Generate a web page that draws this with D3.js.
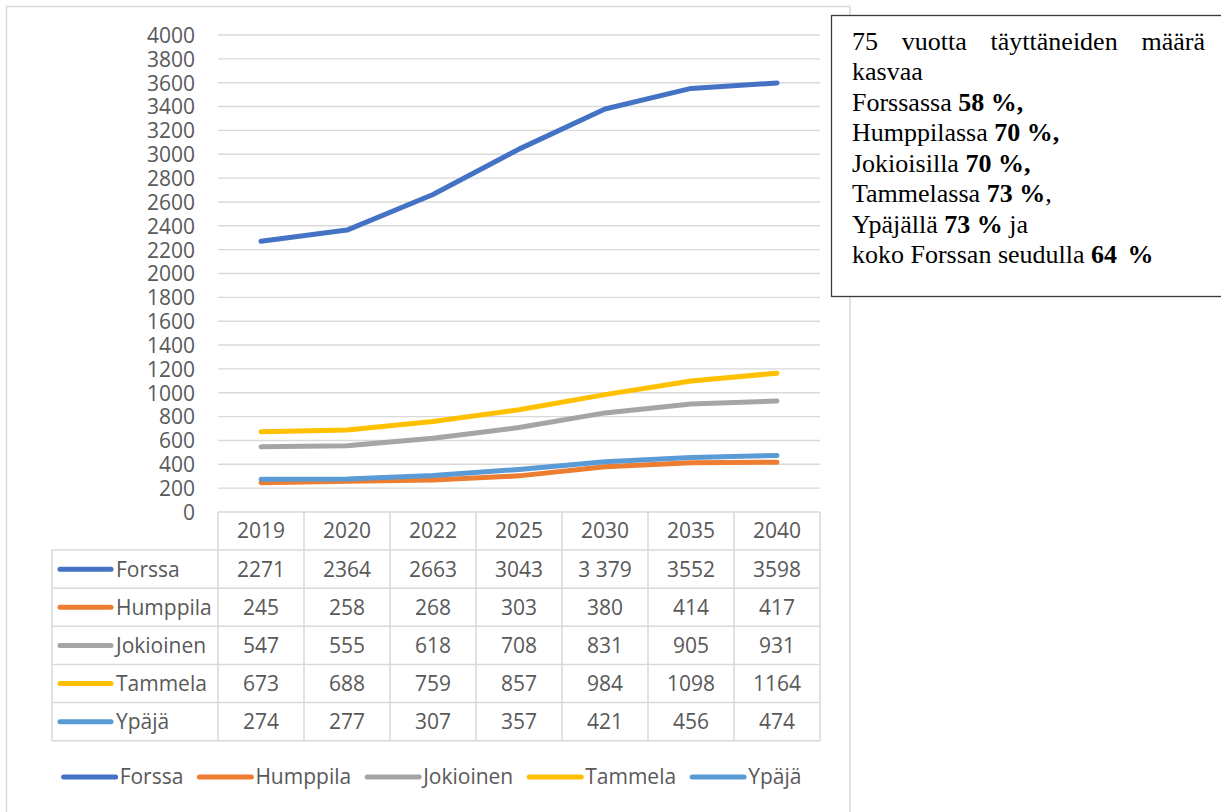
<!DOCTYPE html>
<html>
<head>
<meta charset="utf-8">
<script src="https://cdn.jsdelivr.net/npm/d3@7"></script>
<style>
  html, body { margin: 0; padding: 0; background: #fff; }
  svg { display: block; }
</style>
</head>
<body>
<svg id="chart" width="1221" height="812"></svg>
<script>
// ---------- data ----------
const years = ["2019", "2020", "2022", "2025", "2030", "2035", "2040"];
const seriesNames = ["Forssa", "Humppila", "Jokioinen", "Tammela", "Ypäjä"];
const forssa    = [2271, 2364, 2663, 3043, 3379, 3552, 3598];
const humppila  = [245, 258, 268, 303, 380, 414, 417];
const jokioinen = [547, 555, 618, 708, 831, 905, 931];
const tammela   = [673, 688, 759, 857, 984, 1098, 1164];
const ypaja     = [274, 277, 307, 357, 421, 456, 474];
const seriesColors = ["#4472C4", "#ED7D31", "#A5A5A5", "#FFC000", "#5B9BD5"];
const yTicks = [0, 200, 400, 600, 800, 1000, 1200, 1400, 1600, 1800, 2000, 2200, 2400, 2600, 2800, 3000, 3200, 3400, 3600, 3800, 4000];
const displayOverrides = { "Forssa|2030": "3 379" };

const noteLines = [
  [{ t: "75 vuotta täyttäneiden määrä", justify: true }],
  [{ t: "kasvaa" }],
  [{ t: "Forssassa " }, { t: "58 %,", b: true }],
  [{ t: "Humppilassa " }, { t: "70 %,", b: true }],
  [{ t: "Jokioisilla " }, { t: "70 %,", b: true }],
  [{ t: "Tammelassa " }, { t: "73 %", b: true }, { t: "," }],
  [{ t: "Ypäjällä " }, { t: "73 %", b: true }, { t: " ja" }],
  [{ t: "koko Forssan seudulla " }, { t: "64", b: true }, { t: " %", b: true, dx: 4 }]
];

const seriesValues = [forssa, humppila, jokioinen, tammela, ypaja];
const series = seriesNames.map((n, i) => ({ name: n, color: seriesColors[i], values: seriesValues[i] }));

// ---------- layout ----------
const svg = d3.select("#chart");
const FONT = "'Open Sans', 'Noto Sans', sans-serif";
const FS = 21;
const TXT = "#595959";
const GRID = "#D9D9D9";

const plotLeft = 218, plotRight = 820, plotTop = 35, plotBottom = 512;
const tableLeft = 52, tableBottom = 740.7;

// chart outer border
svg.append("rect")
  .attr("x", 6.5).attr("y", 6.5)
  .attr("width", 843.5).attr("height", 820)
  .attr("fill", "#fff").attr("stroke", GRID).attr("stroke-width", 1.5);

const x = d3.scaleBand().domain(years).range([plotLeft, plotRight]);
const y = d3.scaleLinear().domain([0, 4000]).range([plotBottom, plotTop]);

// gridlines
svg.append("g").selectAll("line").data(yTicks.filter(d => d > 0)).join("line")
  .attr("x1", plotLeft).attr("x2", plotRight)
  .attr("y1", d => y(d)).attr("y2", d => y(d))
  .attr("stroke", GRID).attr("stroke-width", 1.4);

// y axis labels
const yAxis = d3.axisLeft(y).tickValues(yTicks).tickFormat(d3.format("d")).tickSize(0).tickPadding(0);
const yg = svg.append("g").attr("transform", "translate(195,0)").call(yAxis);
yg.select(".domain").remove();
yg.selectAll("text")
  .attr("font-family", FONT).attr("font-size", FS).attr("fill", TXT)
  .attr("dy", "0.35em");

// ---------- data table ----------
const rows = ["__header"].concat(seriesNames);
const r = d3.scaleBand().domain(rows).range([plotBottom, tableBottom]);
const tg = svg.append("g");

const hLines = [{ y: plotBottom, x1: plotLeft }];
rows.forEach(d => hLines.push({ y: r(d) + r.bandwidth(), x1: tableLeft }));
tg.selectAll("line.h").data(hLines).join("line")
  .attr("class", "h")
  .attr("x1", d => d.x1).attr("x2", plotRight)
  .attr("y1", d => d.y).attr("y2", d => d.y)
  .attr("stroke", GRID).attr("stroke-width", 1.5);

const vXs = years.map(yy => x(yy)).concat([plotRight]);
tg.selectAll("line.v").data(vXs).join("line")
  .attr("class", "v")
  .attr("x1", d => d).attr("x2", d => d)
  .attr("y1", plotBottom).attr("y2", tableBottom)
  .attr("stroke", GRID).attr("stroke-width", 1.5);
tg.append("line")
  .attr("x1", tableLeft).attr("x2", tableLeft)
  .attr("y1", r(seriesNames[0])).attr("y2", tableBottom)
  .attr("stroke", GRID).attr("stroke-width", 1.5);

tg.selectAll("text.hdr").data(years).join("text")
  .attr("class", "hdr")
  .attr("x", d => x(d) + x.bandwidth() / 2)
  .attr("y", r("__header") + r.bandwidth() / 2)
  .attr("dy", "0.35em")
  .attr("text-anchor", "middle")
  .attr("font-family", FONT).attr("font-size", FS).attr("fill", TXT)
  .text(d => d);

series.forEach(s => {
  const cy = r(s.name) + r.bandwidth() / 2;
  tg.append("line")
    .attr("x1", 60).attr("x2", 111)
    .attr("y1", cy).attr("y2", cy)
    .attr("stroke", s.color).attr("stroke-width", 5).attr("stroke-linecap", "round");
  tg.append("text")
    .attr("x", 116).attr("y", cy).attr("dy", "0.35em")
    .attr("font-family", FONT).attr("font-size", FS).attr("fill", TXT)
    .text(s.name);
  tg.selectAll(null).data(s.values.map((v, i) => ({ v, yr: years[i] }))).join("text")
    .attr("x", d => x(d.yr) + x.bandwidth() / 2)
    .attr("y", cy).attr("dy", "0.35em")
    .attr("text-anchor", "middle")
    .attr("font-family", FONT).attr("font-size", FS).attr("fill", TXT)
    .text(d => displayOverrides[s.name + "|" + d.yr] || String(d.v));
});

// ---------- lines ----------
const line = d3.line()
  .x((d, i) => x(years[i]) + x.bandwidth() / 2)
  .y(d => y(d));
svg.append("g").selectAll("path").data(series).join("path")
  .attr("d", s => line(s.values))
  .attr("fill", "none")
  .attr("stroke", s => s.color)
  .attr("stroke-width", 5)
  .attr("stroke-linecap", "round")
  .attr("stroke-linejoin", "round");

// ---------- legend ----------
const lg = svg.append("g");
const legendY = 777;
let lx = 0;
series.forEach(s => {
  const g = lg.append("g");
  g.append("line")
    .attr("x1", lx + 3).attr("x2", lx + 55)
    .attr("y1", legendY).attr("y2", legendY)
    .attr("stroke", s.color).attr("stroke-width", 5).attr("stroke-linecap", "round");
  const t = g.append("text")
    .attr("x", lx + 59).attr("y", legendY).attr("dy", "0.35em")
    .attr("font-family", FONT).attr("font-size", FS).attr("fill", TXT)
    .text(s.name);
  const w = t.node().getComputedTextLength();
  lx += 59 + w + 13;
});
const totalW = lx - 13;
lg.attr("transform", `translate(${431 - totalW / 2},0)`);

// ---------- note box ----------
svg.append("rect")
  .attr("x", 831.5).attr("y", 15.5)
  .attr("width", 400).attr("height", 281)
  .attr("fill", "#fff").attr("stroke", "#3a3a3a").attr("stroke-width", 1.3);

const noteX = 852, noteRight = 1205, noteY0 = 50, noteLH = 30.45;
const SERIF = "'Liberation Serif', 'Times New Roman', serif";
noteLines.forEach((segs, i) => {
  const yy = noteY0 + i * noteLH;
  if (segs[0].justify) {
    const words = segs[0].t.split(" ");
    const nodes = words.map(wd => svg.append("text")
      .attr("y", yy).attr("font-family", SERIF).attr("font-size", 26).attr("fill", "#000")
      .text(wd));
    const widths = nodes.map(n => n.node().getComputedTextLength());
    const gap = (noteRight - noteX - d3.sum(widths)) / (words.length - 1);
    let cx = noteX;
    nodes.forEach((n, k) => { n.attr("x", cx); cx += widths[k] + gap; });
  } else {
    const t = svg.append("text")
      .attr("x", noteX).attr("y", yy)
      .attr("font-family", SERIF).attr("font-size", 26).attr("fill", "#000")
      .style("white-space", "pre");
    segs.forEach(sg => {
      const ts = t.append("tspan").attr("font-weight", sg.b ? "bold" : "normal").text(sg.t);
      if (sg.dx) ts.attr("dx", sg.dx);
    });
  }
});
</script>
</body>
</html>
